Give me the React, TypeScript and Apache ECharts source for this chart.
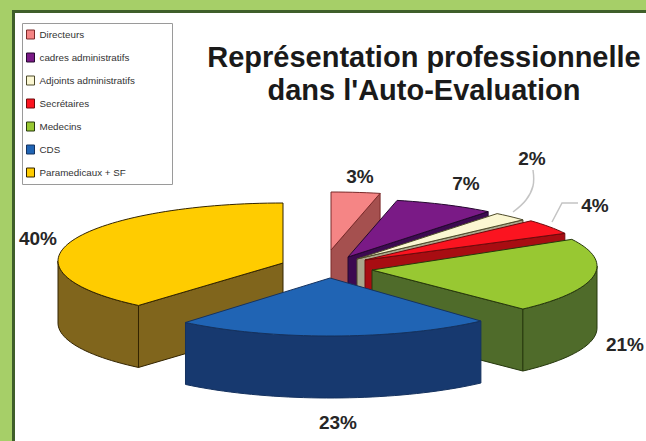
import React, { useEffect, useRef } from "react";
import * as echarts from "echarts";

// ---- data ----
const categories = [
  "Directeurs",
  "cadres administratifs",
  "Adjoints administratifs",
  "Secrétaires",
  "Medecins",
  "CDS",
  "Paramedicaux + SF",
];
const sliceValues = [3.5, 7.2, 2.5, 4.2, 20.9, 22.8, 38.9];
const percentLabels = ["3%", "7%", "2%", "4%", "21%", "23%", "40%"];
const titleLines = ["Représentation professionnelle", "dans l'Auto-Evaluation"];

// ---- styles ----
const topColors = ["#f58585", "#7a1a86", "#fbf7d2", "#fb1420", "#98c832", "#2064b4", "#ffcc00"];
const sideColors = ["#a5504f", "#3c0a50", "#aaa78c", "#a80d12", "#4f6b2a", "#17396f", "#80651c"];
const strokeColors = ["#7a2a2a", "#25082f", "#4d4a2a", "#6d0a0c", "#26380d", "#15325f", "#332400"];

// ---- layout of the exploded, tilted pie (pixels) ----
const apexX = [331, 348, 357, 365, 372, 330, 283];
const apexY = [250, 257, 259, 260, 270, 278, 263];
const arcCenterY = [250, 257, 259, 260, 266, 278, 261];
const radiusX = 225;
const radiusY = 58;
const depth = 62;
const drawOrder = [6, 0, 1, 2, 3, 4, 5];
const labelX = [360, 466, 532, 595, 625, 338, 38];
const labelY = [176, 183, 158, 205, 344, 422, 238];

const total = sliceValues.reduce((a, b) => a + b, 0);
const startAngle = (i: number) =>
  (sliceValues.slice(0, i).reduce((a, b) => a + b, 0) / total) * 2 * Math.PI;

function arcPoint(i: number, a: number, dy = 0): number[] {
  return [
    apexX[i] + radiusX * Math.sin(a),
    arcCenterY[i] - radiusY * Math.cos(a) + dy,
  ];
}

function arcPoints(i: number, a0: number, a1: number, dy = 0): number[][] {
  const n = Math.max(2, Math.ceil(((a1 - a0) / Math.PI) * 90));
  const out: number[][] = [];
  for (let k = 0; k <= n; k++) out.push(arcPoint(i, a0 + ((a1 - a0) * k) / n, dy));
  return out;
}

function renderSlice(i: number) {
  const a0 = startAngle(i);
  const a1 = startAngle(i + 1);
  const apex = [apexX[i], apexY[i]];
  const apexLow = [apexX[i], apexY[i] + depth];
  const wallStyle = { fill: sideColors[i], stroke: strokeColors[i], lineWidth: 1 };
  const children: any[] = [];
  const wall = (a: number) => ({
    type: "polygon",
    shape: { points: [apex, arcPoint(i, a), arcPoint(i, a, depth), apexLow] },
    style: wallStyle,
  });
  if (Math.sin(a1) > 0.001) children.push(wall(a1));
  if (Math.sin(a0) < -0.001) children.push(wall(a0));
  const w0 = Math.max(a0, Math.PI / 2);
  const w1 = Math.min(a1, (3 * Math.PI) / 2);
  if (w1 > w0) {
    children.push({
      type: "polygon",
      shape: {
        points: [...arcPoints(i, w0, w1), ...arcPoints(i, w0, w1, depth).reverse()],
      },
      style: wallStyle,
    });
  }
  children.push({
    type: "polygon",
    shape: { points: [apex, ...arcPoints(i, a0, a1)] },
    style: { fill: topColors[i], stroke: strokeColors[i], lineWidth: 1 },
  });
  return { type: "group", children };
}

export default function App() {
  const ref = useRef<HTMLDivElement>(null);
  useEffect(() => {
    document.body.style.margin = "0";
    const chart = echarts.init(ref.current!, undefined, { renderer: "svg" });
    chart.setOption({
      animation: false,
      backgroundColor: "#ffffff",
      title: {
        text: titleLines.join("\n"),
        left: 419,
        top: 35,
        textAlign: "center",
        textStyle: {
          fontFamily: "Liberation Sans",
          fontWeight: "bold",
          fontSize: 29,
          lineHeight: 33,
          color: "#1a1a1a",
        },
      },
      legend: {
        orient: "vertical",
        left: 22,
        top: 23,
        padding: [5, 0, 0, 4],
        itemWidth: 8,
        itemHeight: 9,
        itemGap: 10,
        selectedMode: false,
        textStyle: {
          fontFamily: "Liberation Sans",
          fontSize: 9.8,
          color: "#333333",
          lineHeight: 13,
        },
        data: categories.map((name, i) => ({
          name,
          icon: "rect",
          itemStyle: { color: topColors[i], borderColor: strokeColors[i], borderWidth: 1 },
        })),
      },
      graphic: [
        { type: "rect", silent: true, z: -2, shape: { x: 0, y: 0, width: 646, height: 10 }, style: { fill: "#a6cf68" } },
        { type: "rect", silent: true, z: -2, shape: { x: 0, y: 0, width: 12, height: 441 }, style: { fill: "#a6cf68" } },
        { type: "rect", silent: true, z: -2, shape: { x: 12, y: 10, width: 634, height: 3 }, style: { fill: "#3f5f2a" } },
        { type: "rect", silent: true, z: -2, shape: { x: 12, y: 10, width: 3, height: 431 }, style: { fill: "#3f5f2a" } },
        {
          type: "rect",
          silent: true,
          z: -1,
          shape: { x: 22.5, y: 23.5, width: 150, height: 161 },
          style: { fill: "#ffffff", stroke: "#9a9a9a", lineWidth: 1 },
        },
        {
          type: "polyline",
          z: 5,
          shape: { points: [[513, 212], [526, 200], [533, 186], [533, 170]], smooth: 0.4 },
          style: { fill: "none", stroke: "#c4c4c4", lineWidth: 1.5 },
        },
        {
          type: "polyline",
          z: 5,
          shape: { points: [[552, 222], [562, 203], [578, 203]] },
          style: { fill: "none", stroke: "#c4c4c4", lineWidth: 1.5 },
        },
        ...percentLabels.map((text, i) => ({
          type: "text",
          z: 10,
          x: labelX[i],
          y: labelY[i],
          style: {
            text,
            align: "center",
            verticalAlign: "middle",
            fontFamily: "Liberation Sans",
            fontWeight: "bold",
            fontSize: 19,
            fill: "#262626",
          },
        })),
      ],
      series: drawOrder.map((i) => ({
        type: "custom",
        name: categories[i],
        coordinateSystem: "none",
        itemStyle: { color: topColors[i] },
        data: [sliceValues[i]],
        renderItem: () => renderSlice(i),
      })),
    });
    return () => chart.dispose();
  }, []);
  return <div ref={ref} style={{ width: 646, height: 441 }} />;
}
